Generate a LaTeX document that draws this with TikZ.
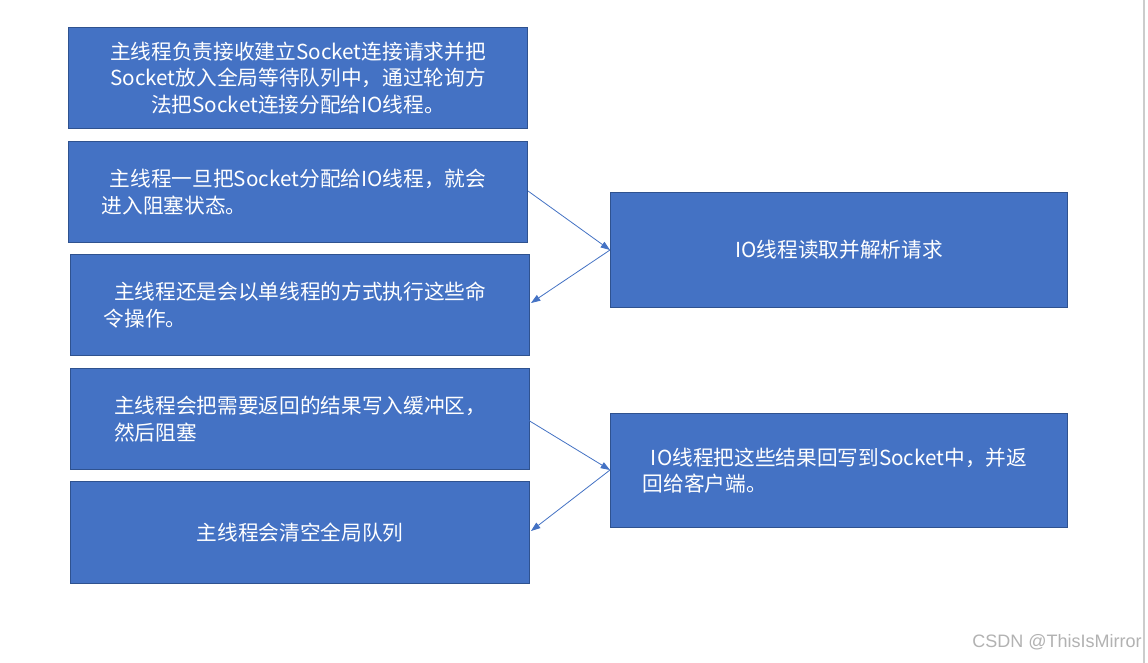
\documentclass[tikz,border=0pt]{standalone}
\usepackage{fontspec}
\setmainfont{Noto Sans CJK SC}
\newfontfamily\wm{Liberation Sans}
\usetikzlibrary{arrows.meta}
\definecolor{boxfill}{HTML}{4472C4}
\definecolor{boxline}{HTML}{2F528F}
\begin{document}
\begin{tikzpicture}[x=0.75pt,y=-0.75pt,
  box/.style={draw=boxline,line width=0.8pt,fill=boxfill,text=white,align=center,
    font=\fontsize{15.5}{20}\selectfont,inner sep=0pt,text width=335pt},
  arr/.style={draw=boxfill,line width=0.6pt,-{Triangle[length=7pt,width=5pt]}}]
\useasboundingbox (0,0) rectangle (1148,663);
\fill[white] (0,0) rectangle (1148,663);
\draw[gray!40,line width=1pt] (1144,0) -- (1144,663);
\newcommand{\bx}[6]{\node[box,minimum width=#4*0.75pt-0.8pt,minimum height=#5*0.75pt-0.8pt,anchor=north west] (#1) at (#2,#3) {#6};}
\bx{b1}{68}{27}{460}{102}{主线程负责接收建立Socket连接请求并把\\Socket放入全局等待队列中，通过轮询方\\法把Socket连接分配给IO线程。}
\bx{b2}{68}{141}{460}{102}{主线程一旦把Socket分配给IO线程，就会\\进入阻塞状态。\phantom{进入阻塞状态进入阻塞状态}}
\bx{b3}{70}{254}{460}{102}{主线程还是会以单线程的方式执行这些命\\令操作。\phantom{进入阻塞状态进入阻塞状态进入阻}}
\bx{b4}{70}{368}{460}{102}{主线程会把需要返回的结果写入缓冲区，\\然后阻塞\phantom{进入阻塞状态进入阻塞状态进入}}
\bx{b5}{70}{481}{460}{103}{主线程会清空全局队列}
\bx{r1}{610}{192}{458}{116}{IO线程读取并解析请求}
\bx{r2}{610}{413}{458}{115}{IO线程把这些结果回写到Socket中，并返\\回给客户端。\phantom{进入阻塞状态进入阻塞状态进}}
\coordinate (a1) at (528,191);
\coordinate (a2) at (610,250);
\coordinate (a3) at (531,303);
\coordinate (a4) at (528,420);
\coordinate (a5) at (610,470);
\coordinate (a6) at (531,531);
\draw[arr] (a1) -- (a2);
\draw[arr] (a2) -- (a3);
\draw[arr] (a4) -- (a5);
\draw[arr] (a5) -- (a6);
\node[anchor=east,text=gray!60,font=\wm\fontsize{13.5}{16}\selectfont,inner sep=0pt] (wm) at (1142,642) {CSDN @ThisIsMirror};
\end{tikzpicture}
\end{document}
